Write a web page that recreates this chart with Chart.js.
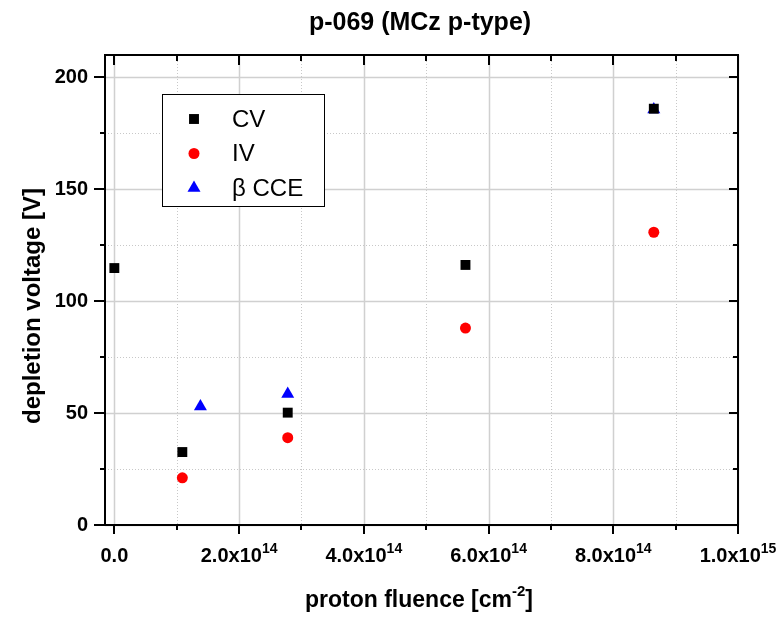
<!DOCTYPE html>
<html>
<head>
<meta charset="utf-8">
<script src="https://cdn.jsdelivr.net/npm/chart.js@4.4.1/dist/chart.umd.min.js"></script>
<style>
  html, body { margin: 0; padding: 0; background: #fff; }
  #wrap { width: 782px; height: 618px; position: relative; }
</style>
</head>
<body>
<div id="wrap"><canvas id="chart"></canvas></div>
<script>
// data
const fluenceCV = [0, 1.09e14, 2.78e14, 5.63e14, 8.65e14];
const voltCV = [114.8, 32.6, 50.2, 116.2, 186.0];
const fluenceIV = [1.09e14, 2.78e14, 5.63e14, 8.65e14];
const voltIV = [21.1, 39.0, 88.0, 130.8];
const fluenceCCE = [1.38e14, 2.78e14, 8.65e14];
const voltCCE = [52.9, 58.5, 185.7];

// axis ticks
const xTicks = [0, 1e14, 2e14, 3e14, 4e14, 5e14, 6e14, 7e14, 8e14, 9e14, 1e15];
const xLabelValues = [0, 2e14, 4e14, 6e14, 8e14, 1e15];
const xLabelMantissa = ['0.0', '2.0x10', '4.0x10', '6.0x10', '8.0x10', '1.0x10'];
const xLabelExp = ['', '14', '14', '14', '14', '15'];
const yTicks = [0, 25, 50, 75, 100, 125, 150, 175, 200];

const FONT = "'Liberation Sans', Arial, sans-serif";

const toPoints = (xs, ys) => xs.map((v, i) => ({ x: v, y: ys[i] }));

// grid, frame, ticks, legend and texts drawn like the Origin plot
const originStyle = {
  id: 'originStyle',
  beforeDatasetsDraw(chart) {
    const { ctx, chartArea: a, scales: { x, y } } = chart;
    ctx.save();
    xTicks.forEach((v, i) => {
      const px = Math.round(x.getPixelForValue(v)) + 0.5;
      const major = i % 2 === 0;
      ctx.strokeStyle = major ? '#d0d0d0' : '#c8c8c8';
      ctx.lineWidth = major ? 1.5 : 1;
      ctx.setLineDash(major ? [] : [1, 2]);
      ctx.beginPath(); ctx.moveTo(px, a.top); ctx.lineTo(px, a.bottom); ctx.stroke();
    });
    yTicks.forEach((v, i) => {
      const py = Math.round(y.getPixelForValue(v)) + 0.5;
      const major = i % 2 === 0;
      ctx.strokeStyle = major ? '#d0d0d0' : '#c8c8c8';
      ctx.lineWidth = major ? 1.5 : 1;
      ctx.setLineDash(major ? [] : [1, 2]);
      ctx.beginPath(); ctx.moveTo(a.left, py); ctx.lineTo(a.right, py); ctx.stroke();
    });
    ctx.restore();
  },
  afterDatasetsDraw(chart) {
    const { ctx, chartArea: a, scales: { x, y } } = chart;
    ctx.save();
    ctx.strokeStyle = '#000';
    ctx.lineWidth = 2;
    ctx.setLineDash([]);
    ctx.strokeRect(a.left, a.top, a.right - a.left, a.bottom - a.top);
    ctx.beginPath();
    xTicks.forEach((v, i) => {
      const px = Math.round(x.getPixelForValue(v));
      const major = i % 2 === 0;
      ctx.moveTo(px, a.bottom); ctx.lineTo(px, a.bottom + (major ? 9 : 5));
      ctx.moveTo(px, a.top); ctx.lineTo(px, a.top + (major ? 10 : 6));
    });
    yTicks.forEach((v, i) => {
      const py = Math.round(y.getPixelForValue(v));
      const major = i % 2 === 0;
      ctx.moveTo(a.left, py); ctx.lineTo(a.left - (major ? 11 : 5), py);
      ctx.moveTo(a.right, py); ctx.lineTo(a.right - (major ? 9 : 5), py);
    });
    ctx.stroke();
    ctx.restore();
  },
  afterDraw(chart) {
    const { ctx, chartArea: a, scales: { x } } = chart;
    ctx.save();
    ctx.fillStyle = '#000';

    // x tick labels with superscript exponent
    xLabelValues.forEach((v, i) => {
      const px = x.getPixelForValue(v);
      ctx.font = 'bold 20px ' + FONT;
      const wm = ctx.measureText(xLabelMantissa[i]).width;
      ctx.font = 'bold 14px ' + FONT;
      const we = ctx.measureText(xLabelExp[i]).width;
      const start = px - (wm + we) / 2;
      ctx.textAlign = 'left';
      ctx.textBaseline = 'alphabetic';
      ctx.font = 'bold 20px ' + FONT;
      ctx.fillText(xLabelMantissa[i], start, 562);
      ctx.font = 'bold 14px ' + FONT;
      ctx.fillText(xLabelExp[i], start + wm, 553);
    });

    // chart title
    ctx.textAlign = 'center';
    ctx.textBaseline = 'alphabetic';
    ctx.font = 'bold 25px ' + FONT;
    ctx.fillText('p-069 (MCz p-type)', 420, 30);

    // x axis title with superscript
    const t1 = 'proton fluence [cm', t2 = '-2', t3 = ']';
    ctx.font = 'bold 23px ' + FONT;
    const w1 = ctx.measureText(t1).width, w3 = ctx.measureText(t3).width;
    ctx.font = 'bold 15px ' + FONT;
    const w2 = ctx.measureText(t2).width;
    let sx = 419 - (w1 + w2 + w3) / 2;
    ctx.textAlign = 'left';
    ctx.font = 'bold 23px ' + FONT;
    ctx.fillText(t1, sx, 607);
    ctx.font = 'bold 15px ' + FONT;
    ctx.fillText(t2, sx + w1, 596);
    ctx.font = 'bold 23px ' + FONT;
    ctx.fillText(t3, sx + w1 + w2, 607);

    // y axis title
    ctx.translate(33, 306);
    ctx.rotate(-Math.PI / 2);
    ctx.textAlign = 'center';
    ctx.textBaseline = 'middle';
    ctx.font = 'bold 24px ' + FONT;
    ctx.fillText('depletion voltage [V]', 0, 0);
    ctx.setTransform(1, 0, 0, 1, 0, 0);

    // legend box inside the plot
    const bx = 162, by = 94, bw = 162, bh = 112;
    ctx.fillStyle = '#fff';
    ctx.fillRect(bx, by, bw, bh);
    ctx.strokeStyle = '#000';
    ctx.lineWidth = 1;
    ctx.strokeRect(bx + 0.5, by + 0.5, bw, bh);
    chart.data.datasets.forEach((ds, i) => {
      const ry = 119 + i * 34.5;
      ctx.fillStyle = ds.backgroundColor;
      ctx.strokeStyle = ds.borderColor;
      ctx.lineWidth = ds.borderWidth;
      Chart.helpers.drawPoint(ctx, {
        pointStyle: ds.pointStyle, radius: ds.pointRadius, rotation: 0, borderWidth: ds.borderWidth
      }, 194, ry);
      ctx.fillStyle = '#000';
      ctx.font = '24px ' + FONT;
      ctx.textAlign = 'left';
      ctx.textBaseline = 'middle';
      ctx.fillText(ds.label, 232, ry + 1);
    });
    ctx.restore();
  }
};

new Chart(document.getElementById('chart'), {
  type: 'scatter',
  data: {
    datasets: [
      {
        label: 'CV',
        data: toPoints(fluenceCV, voltCV),
        pointStyle: 'rect',
        pointRadius: 7,
        pointHoverRadius: 7,
        backgroundColor: '#000',
        borderColor: '#000',
        borderWidth: 0
      },
      {
        label: 'IV',
        data: toPoints(fluenceIV, voltIV),
        pointStyle: 'circle',
        pointRadius: 5.5,
        pointHoverRadius: 5.5,
        backgroundColor: '#ff0000',
        borderColor: '#ff0000',
        borderWidth: 0
      },
      {
        label: 'β CCE',
        data: toPoints(fluenceCCE, voltCCE),
        pointStyle: 'triangle',
        pointRadius: 7.5,
        pointHoverRadius: 7.5,
        backgroundColor: '#0000ff',
        borderColor: '#0000ff',
        borderWidth: 0
      }
    ]
  },
  options: {
    responsive: true,
    maintainAspectRatio: false,
    animation: false,
    layout: { padding: { top: 55, bottom: 93, left: 0, right: 44 } },
    plugins: {
      legend: { display: false },
      tooltip: { enabled: false },
      title: { display: false }
    },
    scales: {
      x: {
        type: 'linear',
        display: false,
        min: -1.5e13,
        max: 1e15
      },
      y: {
        type: 'linear',
        min: 0,
        max: 210,
        afterBuildTicks: (scale) => { scale.ticks = yTicks.map(v => ({ value: v })); },
        afterFit: (scale) => { scale.width = 105; },
        grid: { display: false, drawTicks: false },
        border: { display: false },
        ticks: {
          padding: 17,
          color: '#000',
          font: { family: FONT, size: 20, weight: 'bold' },
          callback: (v) => (v % 50 === 0 ? String(v) : '')
        }
      }
    }
  },
  plugins: [originStyle]
});
</script>
</body>
</html>
